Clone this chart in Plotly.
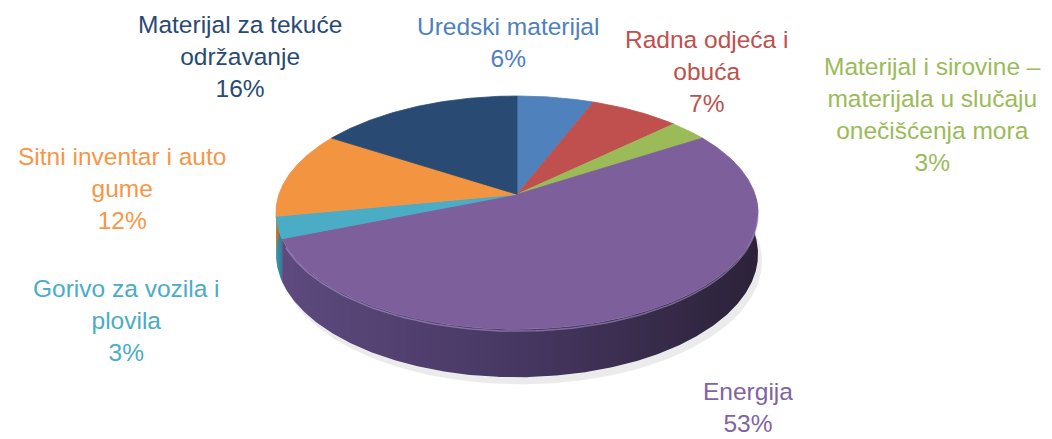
import numpy as np
import plotly.graph_objects as go

# ---- data ----
categories = [
    "Uredski materijal",
    "Radna odjeća i obuća",
    "Materijal i sirovine – materijala u slučaju onečišćenja mora",
    "Energija",
    "Gorivo za vozila i plovila",
    "Sitni inventar i auto gume",
    "Materijal za tekuće održavanje",
]
label_lines = [
    ["Uredski materijal"],
    ["Radna odjeća i", "obuća"],
    ["Materijal i sirovine –", "materijala u slučaju", "onečišćenja mora"],
    ["Energija"],
    ["Gorivo za vozila i", "plovila"],
    ["Sitni inventar i auto", "gume"],
    ["Materijal za tekuće", "održavanje"],
]
values = [6, 7, 3, 53, 3, 12, 16]

# ---- styles ----
top_colors = ["#4f81bd", "#c0504d", "#9bbb59", "#7d5f9c", "#4bacc6", "#f39441", "#294a73"]
side_scales = [
    [[0, "#3d6699"], [1, "#2a4670"]],
    [[0, "#9a3e3b"], [1, "#6e2b29"]],
    [[0, "#7a9545"], [1, "#566a30"]],
    [[0, "#5e4a7e"], [0.5, "#463762"], [1, "#2c2238"]],
    [[0, "#3e97b0"], [1, "#2f7c91"]],
    [[0, "#d77b2f"], [1, "#b5651f"]],
    [[0, "#1f3a5c"], [1, "#162a45"]],
]
text_colors = ["#4f81bd", "#c0504d", "#9bbb59", "#8064a2", "#4bacc6", "#f79646", "#2a4a73"]
label_pos = [(508, 42), (706, 71), (932, 114), (748, 407), (126, 320), (122, 188), (240, 56)]

# projection parameters (pixel space of the window)
CX, CY = 517.0, 194.3
D, S, SY, K = 6.36, 1514.0, 723.5, 257.0
OFF = 8  # page body margin


def proj(theta_deg, h=0.0):
    t = np.radians(theta_deg)
    X, Z = np.sin(t), np.cos(t)
    w = D + Z
    return CX + S * X / w, CY - SY * Z / w + K * h / w


total = float(sum(values))
bounds = np.concatenate([[0.0], np.cumsum(values) / total * 360.0])

fig = go.Figure()

# soft shadow under the pie
th = np.linspace(85, 275, 120)
xs_t, ys_t = proj(th, 1.0)
xs_b, ys_b = proj(th[::-1], 1.0)
fig.add_trace(go.Scatter(
    x=np.concatenate([xs_t, xs_b + 4]), y=np.concatenate([ys_t, ys_b + 7]),
    fill="toself", fillcolor="rgba(0,0,0,0.08)", line=dict(width=0),
    mode="lines", hoverinfo="skip"))

# side walls (front half only)
for i in range(len(values)):
    a, b = max(bounds[i], 90.0), min(bounds[i + 1], 270.0)
    if b <= a:
        continue
    th = np.linspace(a, b, max(4, int((b - a) * 2)))
    xt, yt = proj(th, 0.0)
    xb, yb = proj(th[::-1], 1.0)
    fig.add_trace(go.Scatter(
        x=np.concatenate([xt, xb]), y=np.concatenate([yt, yb]),
        fill="toself", fillgradient=dict(type="horizontal", colorscale=side_scales[i]),
        line=dict(width=0), mode="lines", hoverinfo="skip"))

# top faces
for i in range(len(values)):
    a, b = bounds[i], bounds[i + 1]
    th = np.linspace(a, b, max(4, int((b - a) * 2)))
    xa, ya = proj(th, 0.0)
    fig.add_trace(go.Scatter(
        x=np.concatenate([[CX], xa, [CX]]), y=np.concatenate([[CY], ya, [CY]]),
        fill="toself", fillcolor=top_colors[i], line=dict(width=0.8, color=top_colors[i]),
        mode="lines", name=categories[i], hoverinfo="name"))

# bevel highlight along front edge
th = np.linspace(100, 245, 100)
xh, yh = proj(th, 0.04)
fig.add_trace(go.Scatter(x=xh, y=yh, mode="lines",
                         line=dict(width=1.5, color="rgba(190,170,220,0.5)"), hoverinfo="skip"))

# labels
for i in range(len(values)):
    txt = "<br>".join(label_lines[i] + [f"{values[i] / total * 100:.0f}%"])
    fig.add_annotation(x=label_pos[i][0], y=label_pos[i][1], text=txt, showarrow=False,
                       xanchor="center", yanchor="middle", align="center",
                       font=dict(family="Liberation Sans, Arial, sans-serif", size=24.5,
                                 color=text_colors[i]))

W, H = 1052, 439
fig.update_layout(
    width=W - OFF, height=H - OFF, margin=dict(l=0, r=0, t=0, b=0),
    paper_bgcolor="white", plot_bgcolor="white", showlegend=False,
    xaxis=dict(range=[OFF, W], visible=False, fixedrange=True),
    yaxis=dict(range=[H, OFF], visible=False, fixedrange=True),
)

fig.write_html("out.html")
